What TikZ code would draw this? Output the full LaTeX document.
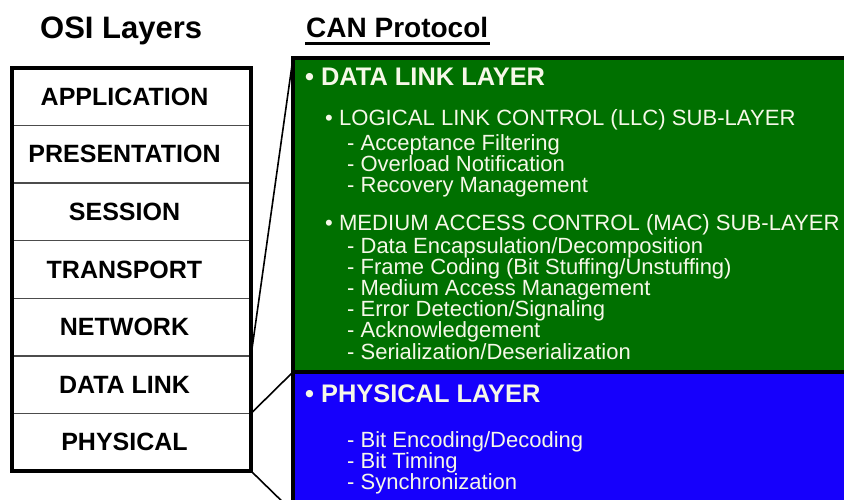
\documentclass[tikz,border=0pt]{standalone}
\usepackage{fontspec}
\setmainfont{Liberation Sans}
\usetikzlibrary{positioning,calc}

\definecolor{canGreen}{RGB}{0,112,0}
\definecolor{canBlue}{RGB}{22,0,252}
\definecolor{canText}{RGB}{246,248,232}

\tikzset{
  osirow/.style={draw=black!70, line width=1.3pt, minimum width=239pt, minimum height=57.57pt,
    inner sep=0pt, outer sep=0pt,
    label={[xshift=-7pt,font=\bfseries\fontsize{25}{25}\selectfont]center:#1}},
  osititle/.style={inner sep=0pt, font=\bfseries\fontsize{28}{28}\selectfont},
  layerbox/.style={draw=black, line width=3.5pt, fill=#1, anchor=north west,
    minimum width=560pt, inner sep=0pt, outer sep=0pt},
  layerhead/.style={anchor=west, inner sep=0pt, text=canText, font=\bfseries\fontsize{25.4}{25}\selectfont},
  layersub/.style={anchor=west, inner sep=0pt, text=canText, font=\fontsize{22.1}{21}\selectfont},
  layeritems/.style={anchor=north west, inner sep=0pt, text=canText, align=left,
    font=\fontsize{22}{21.2}\selectfont},
  link/.style={line width=1.6pt}
}

\begin{document}
\begin{tikzpicture}[x=1pt,y=-1pt]
\useasboundingbox (0,0) rectangle (844,499);
\clip (0,0) rectangle (844,499);

% titles
\node[osititle, anchor=base west, font=\bfseries\fontsize{31}{31}\selectfont] (osi) at (40,38) {OSI Layers};
\node[osititle, anchor=base west] (can) at (306,37) {CAN Protocol};
\draw[line width=2.6pt] ($(can.base west)+(-1,6.5)$) -- ($(can.base east)+(2,6.5)$);

% OSI stack
\node[osirow=APPLICATION, anchor=north west] (app) at (12,68) {};
\node[osirow=PRESENTATION, below=0pt of app] (pres) {};
\node[osirow=SESSION, below=0pt of pres] (sess) {};
\node[osirow=TRANSPORT, below=0pt of sess] (trans) {};
\node[osirow=NETWORK, below=0pt of trans] (net) {};
\node[osirow=DATA LINK, below=0pt of net] (dl) {};
\node[osirow=PHYSICAL, below=0pt of dl] (phy) {};
\draw[line width=4pt] (app.north west) rectangle (phy.south east);

% CAN layers
\node[layerbox=canGreen, minimum height=314pt] (dll) at (293,58) {};
\node[layerbox=canBlue, minimum height=140pt] (phl) at (293,372) {};

\draw[link] (dll.north west) -- (net.south east);
\draw[link] (phy.north east) -- (phl.north west);
\draw[link] (phy.south east) -- (phl.south west);

% data link text
\node[layerhead] (dllh) at (305,77) {• DATA LINK LAYER};
\node[layersub] (llc) at (325,120) {• LOGICAL LINK CONTROL (LLC) SUB-LAYER};
\node[layeritems] (llci) at (347,134) {- Acceptance Filtering\\- Overload Notification\\- Recovery Management};
\node[layersub] (mac) at (325,225) {• MEDIUM ACCESS CONTROL (MAC) SUB-LAYER};
\node[layeritems] (maci) at (347,237) {- Data Encapsulation/Decomposition\\- Frame Coding (Bit Stuffing/Unstuffing)\\- Medium Access Management\\- Error Detection/Signaling\\- Acknowledgement\\- Serialization/Deserialization};

% physical text
\node[layerhead] (phlh) at (305,394) {• PHYSICAL LAYER};
\node[layeritems] (phli) at (347,431) {- Bit Encoding/Decoding\\- Bit Timing\\- Synchronization};
\end{tikzpicture}
\end{document}
